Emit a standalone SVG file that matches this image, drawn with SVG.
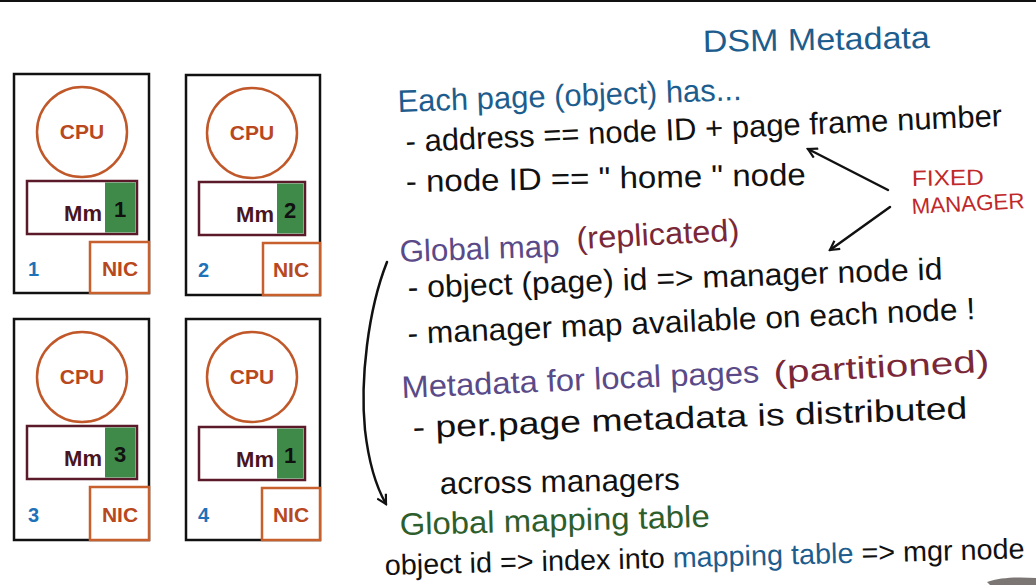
<svg xmlns="http://www.w3.org/2000/svg" width="1036" height="585" viewBox="0 0 1036 585">
<style>
.box{fill:#fff;stroke:#111;stroke-width:2.5}
.cpu{fill:#fff;stroke:#c0582a;stroke-width:2.5}
.mm{fill:#fff;stroke:#5a1a2a;stroke-width:2.5}
.grn{fill:#3f8a48}
.nic{fill:#fff;stroke:#c8602e;stroke-width:2.5}
.ct{font-family:"Liberation Sans",Arial,sans-serif;font-weight:bold;font-size:21px;fill:#b8481e;text-anchor:middle}
.mt{font-family:"Liberation Sans",Arial,sans-serif;font-weight:bold;font-size:22px;fill:#4a1420;text-anchor:end}
.nt{font-family:"Liberation Sans",Arial,sans-serif;font-weight:bold;font-size:22px;fill:#111;text-anchor:middle}
.lb{font-family:"Liberation Sans",Arial,sans-serif;font-weight:bold;font-size:20px;fill:#1f72b8}
.h{font-family:"Liberation Sans",Arial,sans-serif;font-size:31px;fill:#111}
.blue{fill:#1d5d8e}
.purple{fill:#5a4a88}
.maroon{fill:#7a2838}
.green{fill:#2e5e2c}
.red{font-family:"Liberation Sans",Arial,sans-serif;font-size:22px;fill:#c0282a}
.arr{fill:none;stroke:#111;stroke-width:2.5;stroke-linecap:round}
</style>
<defs>
<marker id="ah" viewBox="0 0 12 12" refX="10" refY="6" markerWidth="12" markerHeight="12" markerUnits="userSpaceOnUse" orient="auto">
<path d="M1,1 L10,6 L1,11" fill="none" stroke="#111" stroke-width="2.2"/>
</marker>
</defs>
<rect x="0" y="0" width="1036" height="585" fill="#fff"/>
<rect x="0" y="0" width="1036" height="2" fill="#111"/>

<g id="node1">
<rect class="box" x="14" y="74" width="135" height="219"/>
<circle class="cpu" cx="82" cy="132" r="45"/>
<text class="ct" x="82" y="139">CPU</text>
<rect class="mm" x="27" y="181" width="110" height="53"/>
<rect class="grn" x="105" y="182.5" width="30.5" height="50"/>
<text class="mt" x="102" y="221">Mm</text>
<text class="nt" x="120" y="217">1</text>
<rect class="nic" x="90" y="242" width="59" height="51"/>
<text class="ct" x="120" y="276">NIC</text>
<text class="lb" x="28" y="276">1</text>
</g>

<g id="node2">
<rect class="box" x="186" y="75" width="134" height="220"/>
<circle class="cpu" cx="252" cy="133" r="45"/>
<text class="ct" x="252" y="140">CPU</text>
<rect class="mm" x="199" y="182" width="106" height="53"/>
<rect class="grn" x="277" y="183.5" width="26.5" height="50"/>
<text class="mt" x="274" y="222">Mm</text>
<text class="nt" x="290" y="218">2</text>
<rect class="nic" x="263" y="243" width="57" height="52"/>
<text class="ct" x="291" y="277">NIC</text>
<text class="lb" x="198" y="277">2</text>
</g>

<g id="node3">
<rect class="box" x="14" y="319" width="135" height="221"/>
<circle class="cpu" cx="82" cy="377" r="45"/>
<text class="ct" x="82" y="384">CPU</text>
<rect class="mm" x="27" y="426" width="110" height="53"/>
<rect class="grn" x="105" y="427.5" width="30.5" height="50"/>
<text class="mt" x="102" y="466">Mm</text>
<text class="nt" x="120" y="462">3</text>
<rect class="nic" x="90" y="487" width="59" height="53"/>
<text class="ct" x="120" y="522">NIC</text>
<text class="lb" x="28" y="522">3</text>
</g>

<g id="node4">
<rect class="box" x="186" y="319" width="134" height="221"/>
<circle class="cpu" cx="252" cy="377" r="45"/>
<text class="ct" x="252" y="384">CPU</text>
<rect class="mm" x="199" y="427" width="106" height="53"/>
<rect class="grn" x="277" y="428.5" width="26.5" height="50"/>
<text class="mt" x="274" y="467">Mm</text>
<text class="nt" x="290" y="463">1</text>
<rect class="nic" x="262" y="488" width="58" height="52"/>
<text class="ct" x="291" y="522">NIC</text>
<text class="lb" x="198" y="522">4</text>
</g>

<g id="notes">
<text class="h blue" x="703" y="52" textLength="227" lengthAdjust="spacingAndGlyphs" transform="rotate(-1 703 52)">DSM Metadata</text>
<text class="h blue" x="398" y="112" textLength="344" lengthAdjust="spacingAndGlyphs" transform="rotate(-2 398 112)">Each page (object) has...</text>
<text class="h" x="406" y="152" textLength="597" lengthAdjust="spacingAndGlyphs" transform="rotate(-2.5 406 152)">- address == node ID + page frame number</text>
<text class="h" x="406" y="192" textLength="400" lengthAdjust="spacingAndGlyphs" transform="rotate(-1 406 192)">- node ID ==  " home " node</text>
<text class="h purple" x="400" y="262" textLength="160" lengthAdjust="spacingAndGlyphs" transform="rotate(-2 400 262)">Global map</text>
<text class="h maroon" x="577" y="249" textLength="163" lengthAdjust="spacingAndGlyphs" transform="rotate(-3 577 249)">(replicated)</text>
<text class="h" x="408" y="298" textLength="535" lengthAdjust="spacingAndGlyphs" transform="rotate(-2 408 298)">- object (page) id =&gt;  manager node id</text>
<text class="h" x="408" y="344" textLength="568" lengthAdjust="spacingAndGlyphs" transform="rotate(-2.5 408 344)">- manager map available on each node !</text>
<text class="h purple" x="402" y="398" textLength="358" lengthAdjust="spacingAndGlyphs" transform="rotate(-2.5 402 398)">Metadata for local pages</text>
<text class="h maroon" x="774" y="383" textLength="216" lengthAdjust="spacingAndGlyphs" transform="rotate(-3 774 383)">(partitioned)</text>
<text class="h" x="413" y="438" textLength="555" lengthAdjust="spacingAndGlyphs" transform="rotate(-2 413 438)">- per.page  metadata  is distributed</text>
<text class="h" x="440" y="494" textLength="240" lengthAdjust="spacingAndGlyphs" transform="rotate(-1 440 494)">across managers</text>
<text class="h green" x="400" y="535" textLength="310" lengthAdjust="spacingAndGlyphs" transform="rotate(-1.5 400 535)">Global mapping table</text>
<text class="h" style="font-size:28.5px" x="385" y="575" textLength="640" lengthAdjust="spacingAndGlyphs" transform="rotate(-1.5 385 575)">object id =&gt; index into <tspan class="blue">mapping table</tspan> =&gt; mgr node</text>
<text class="red" x="912" y="186" textLength="72" lengthAdjust="spacingAndGlyphs" transform="rotate(-1 912 186)">FIXED</text>
<text class="red" x="912" y="214" textLength="113" lengthAdjust="spacingAndGlyphs" transform="rotate(-3 912 214)">MANAGER</text>
</g>

<g id="connectors">
<line class="arr" x1="888" y1="190" x2="808" y2="149" marker-end="url(#ah)"/>
<line class="arr" x1="890" y1="207" x2="830" y2="250" marker-end="url(#ah)"/>
<path class="arr" d="M387,262 C368,310 360,380 365,430 C369,465 378,490 386,504" marker-end="url(#ah)"/>
</g>

<path d="M987,582 C1000,577 1020,577 1036,578 L1036,585 L990,585 Z" fill="#5a5450" opacity="0.8"/>
</svg>
